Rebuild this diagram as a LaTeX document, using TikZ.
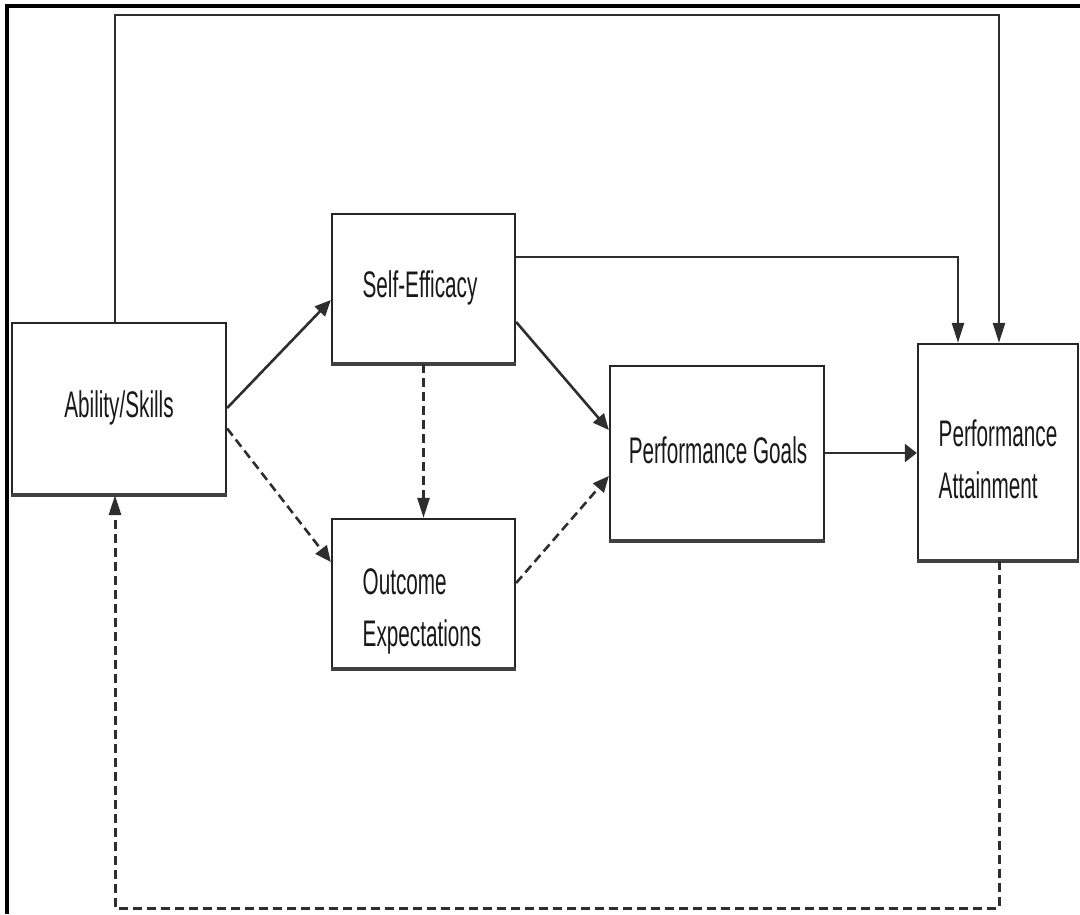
\documentclass[tikz,border=0pt]{standalone}
\usepackage{fontspec}
\setmainfont{Liberation Sans}
\newfontfamily\narrowsans[FakeStretch=0.56]{Liberation Sans}
\usetikzlibrary{arrows.meta}

\begin{document}
\begin{tikzpicture}[x=1pt,y=-1pt,
  box/.style={draw=black!85, line width=2.3pt, fill=white, inner sep=0pt},
  lbl/.style={font=\narrowsans\fontsize{37}{52}\selectfont, text=black!90, align=left, inner sep=0pt},
  link/.style={draw=black!82, line width=2.6pt},
  dashlink/.style={link, dash pattern=on 9pt off 5pt},
  tipv/.style={-{Triangle[length=20pt,width=12pt]}},
  tiph/.style={-{Triangle[length=12pt,width=18pt]}},
  tipd/.style={-{Triangle[length=16pt,width=14pt]}},
  bottomedge/.style={line width=4pt, draw=black!75}
]
\useasboundingbox (0,0) rectangle (1080,914);

% frame
\draw[line width=3.2pt] (7,914) -- (7,6) -- (1080,6);

% boxes
\node[box, minimum width=214pt, minimum height=171pt] (ab) at (119,408.5) {};
\node[box, minimum width=183pt, minimum height=149pt] (se) at (423.5,288.5) {};
\node[box, minimum width=183pt, minimum height=149pt] (oe) at (423.5,593.5) {};
\node[box, minimum width=214pt, minimum height=174pt] (pg) at (717,453) {};
\node[box, minimum width=160pt, minimum height=216pt] (pa) at (998,452) {};
\foreach \n in {ab,se,oe,pg,pa}
  \draw[bottomedge] (\n.south west) -- (\n.south east);

% labels
\node[lbl] (abT) at (119,408) {Ability/Skills};
\node[lbl] (seT) at (420,288) {Self-Efficacy};
\node[lbl] (oeT) at (422,611) {Outcome\\Expectations};
\node[lbl] (pgT) at (718,450) {Performance Goals};
\node[lbl] (paT) at (998,459) {Performance\\Attainment};

% routing points
\coordinate (topL) at (115,15);
\coordinate (topR) at (999,15);
\coordinate (seR) at (958,257);
\coordinate (botL) at (115,908);
\coordinate (botR) at (999,908);

% solid paths
\draw[link, tipv] (topL |- ab.north) -- (topL) -- (topR) -- (topR |- pa.north);
\draw[link, tipv] (se.east |- seR) -- (seR) -- (seR |- pa.north);
\draw[link, tipd] ([yshift=0.5pt]ab.east) -- ([yshift=-11.5pt]se.west);
\draw[link, tipd] ([yshift=-33.5pt]se.east) -- ([yshift=23pt]pg.west);
\draw[link, tiph] (pg.east) -- (pg.east -| pa.west);

% dashed paths
\draw[dashlink, tipd] ([yshift=-20pt]ab.east) -- ([yshift=31.5pt]oe.west);
\draw[dashlink, tipv] (se.south) -- (oe.north);
\draw[dashlink, tipd] ([yshift=10.5pt]oe.east) -- ([yshift=-23pt]pg.west);
\draw[dashlink, line width=3pt, dash pattern=on 9pt off 5pt, tipv]
  (botR |- pa.south) -- (botR) -- (botL) -- (botL |- ab.south);
\end{tikzpicture}
\end{document}
